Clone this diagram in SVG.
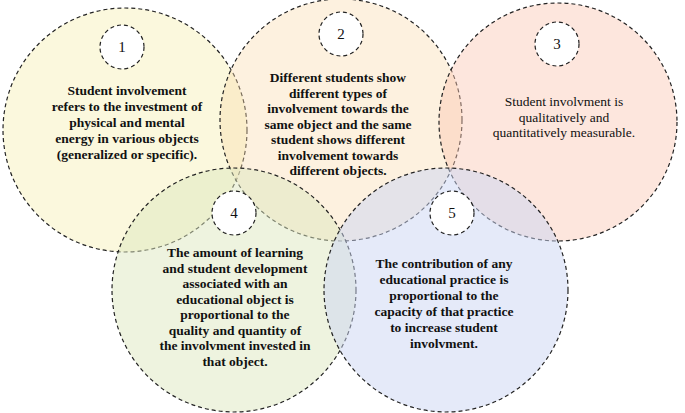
<svg xmlns="http://www.w3.org/2000/svg" width="685" height="413" viewBox="0 0 685 413">
<style>
.big{stroke:#222;stroke-width:1.2;stroke-dasharray:4,3}
.num{fill:#fff;stroke:#222;stroke-width:1.2;stroke-dasharray:4,3}
text{font-family:"Liberation Serif",serif;font-size:13.5px;fill:#111;text-anchor:middle}
.b{font-weight:bold}
.n{font-size:15px}
</style>
<rect width="685" height="413" fill="#fff"/>
<g id="node1"><circle class="big" cx="125" cy="130" r="122" fill="#f6efb4" fill-opacity="0.45"/></g>
<g id="node2"><circle class="big" cx="341" cy="120" r="121" fill="#fbdcae" fill-opacity="0.4"/></g>
<g id="node3"><circle class="big" cx="558" cy="122" r="119" fill="#fbc8b4" fill-opacity="0.45"/></g>
<g id="node4"><circle class="big" cx="234" cy="290" r="122" fill="#dde8c0" fill-opacity="0.5"/></g>
<g id="node5"><circle class="big" cx="446" cy="290" r="122" fill="#cbd6f3" fill-opacity="0.5"/></g>
<g id="labels">
<circle class="num" cx="122" cy="47" r="22"/><text class="n" x="122" y="52">1</text>
<circle class="num" cx="341" cy="34" r="22"/><text class="n" x="341" y="39">2</text>
<circle class="num" cx="557" cy="44" r="22"/><text class="n" x="557" y="49">3</text>
<circle class="num" cx="234" cy="213" r="22"/><text class="n" x="234" y="218">4</text>
<circle class="num" cx="452" cy="213" r="22"/><text class="n" x="452" y="218">5</text>
<text class="b"><tspan x="127" y="95">Student involvement</tspan><tspan x="127" y="111">refers to the investment of</tspan><tspan x="127" y="127">physical and mental</tspan><tspan x="127" y="143">energy in various objects</tspan><tspan x="127" y="159">(generalized or specific).</tspan></text>
<text class="b"><tspan x="338" y="82">Different students show</tspan><tspan x="338" y="97.5">different types of</tspan><tspan x="338" y="113">involvement towards the</tspan><tspan x="338" y="128.5">same object and the same</tspan><tspan x="338" y="144">student shows different</tspan><tspan x="338" y="159.5">involvement towards</tspan><tspan x="338" y="175">different objects.</tspan></text>
<text><tspan x="564" y="106">Student involvment is</tspan><tspan x="564" y="121.5">qualitatively and</tspan><tspan x="564" y="137">quantitatively measurable.</tspan></text>
<text class="b"><tspan x="235" y="257">The amount of learning</tspan><tspan x="235" y="272.5">and student development</tspan><tspan x="235" y="288">associated with an</tspan><tspan x="235" y="303.5">educational object is</tspan><tspan x="235" y="319">proportional to the</tspan><tspan x="235" y="334.5">quality and quantity of</tspan><tspan x="235" y="350">the involvment invested in</tspan><tspan x="235" y="365.5">that object.</tspan></text>
<text class="b"><tspan x="444" y="268">The contribution of any</tspan><tspan x="444" y="284">educational practice is</tspan><tspan x="444" y="300">proportional to the</tspan><tspan x="444" y="316">capacity of that practice</tspan><tspan x="444" y="332">to increase student</tspan><tspan x="444" y="348">involvment.</tspan></text>
</g>
<g id="connectors"></g>
</svg>
